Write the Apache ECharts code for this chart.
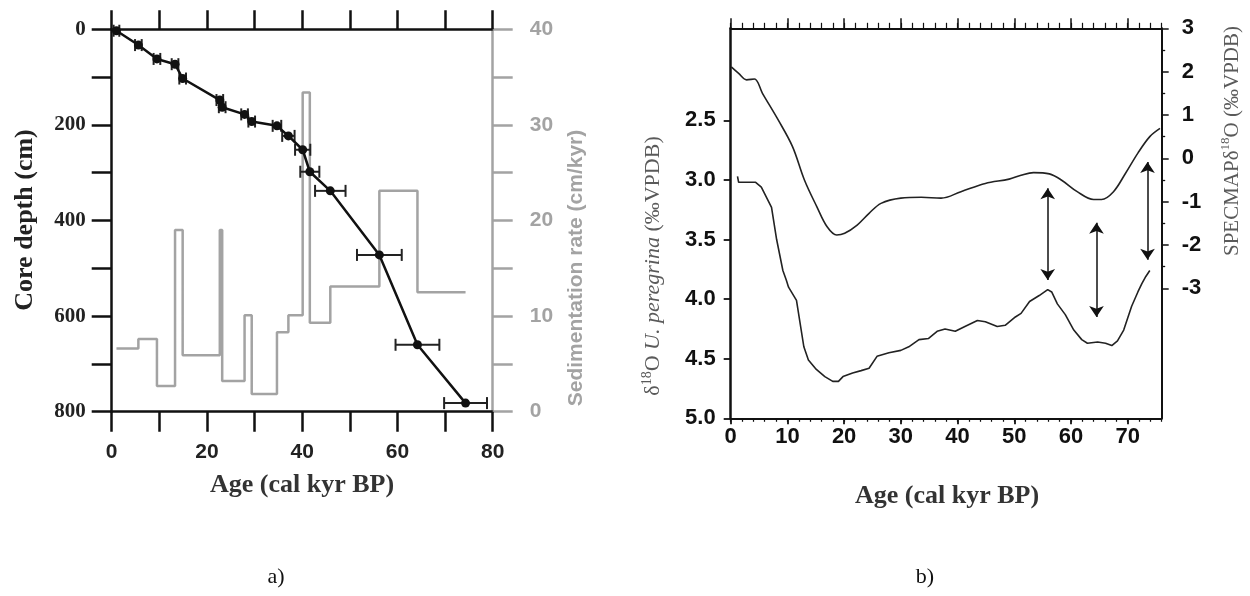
<!DOCTYPE html>
<html><head><meta charset="utf-8">
<script src="https://cdn.jsdelivr.net/npm/echarts@6/dist/echarts.min.js"></script>
<style>html,body{margin:0;padding:0;background:#fff}#c{width:1250px;height:596px}</style>
</head><body><div id="c"></div>
<script>
// ---------- Panel a) data ----------
const ages      = [1, 5.6, 9.5, 13.3, 14.9, 22.7, 23.2, 27.9, 29.4, 34.7, 37.1, 40.1, 41.6, 45.9, 56.2, 64.2, 74.3];
const depths    = [3, 33, 62, 73, 103, 148, 163, 178, 193, 202, 223, 252, 298, 338, 472, 660, 782];
const ageErrors = [0.6, 0.7, 0.7, 0.7, 0.7, 0.7, 0.7, 0.7, 0.7, 0.9, 1.3, 1.6, 2.0, 3.2, 4.7, 4.6, 4.5];
const sedAges   = [1, 5.6, 9.5, 13.3, 14.9, 22.7, 23.2, 27.9, 29.4, 34.7, 37.1, 40.1, 41.6, 45.9, 56.2, 64.2, 74.3];
const sedRates  = [6.6, 7.6, 2.7, 19.0, 5.9, 19.0, 3.2, 10.1, 1.85, 8.3, 10.1, 33.4, 9.3, 13.1, 23.1, 12.5, 12.5];

// ---------- Panel b) data ----------
const specAges = [0.1, 1.4, 2.8, 4.2, 5.6, 8.4, 10.9, 13.0, 15.2, 17.0, 18.7, 20.1, 22.3, 24.4, 26.5, 30.0, 33.6, 37.1, 40.6, 44.9, 49.1, 51.2, 53.4, 56.2, 58.3, 61.1, 64.0, 65.4, 67.5, 69.6, 71.8, 73.9, 75.7];
const specVals = [2.11, 1.96, 1.81, 1.83, 1.50, 0.88, 0.27, -0.50, -1.12, -1.58, -1.77, -1.73, -1.54, -1.27, -1.04, -0.92, -0.90, -0.92, -0.77, -0.58, -0.48, -0.39, -0.33, -0.36, -0.50, -0.77, -0.95, -0.95, -0.77, -0.35, 0.12, 0.50, 0.69];
const peregAges = [1.2, 1.4, 2.4, 4.4, 5.4, 7.2, 8.1, 9.2, 9.8, 10.2, 11.6, 12.9, 13.7, 15.1, 16.6, 18.0, 19.0, 19.8, 21.5, 23.0, 24.4, 25.8, 27.9, 30.0, 31.4, 33.2, 34.9, 36.4, 37.8, 39.6, 41.3, 43.5, 44.9, 47.0, 48.4, 50.2, 51.2, 52.7, 54.4, 55.9, 56.6, 57.6, 59.0, 60.5, 61.9, 62.9, 64.7, 66.1, 67.2, 68.2, 69.3, 70.7, 71.8, 72.5, 73.2, 73.9];
const peregVals = [2.97, 3.02, 3.02, 3.02, 3.06, 3.23, 3.50, 3.76, 3.84, 3.90, 4.01, 4.40, 4.51, 4.59, 4.65, 4.69, 4.69, 4.65, 4.62, 4.60, 4.58, 4.48, 4.45, 4.43, 4.40, 4.34, 4.33, 4.27, 4.25, 4.27, 4.23, 4.18, 4.19, 4.23, 4.22, 4.15, 4.12, 4.02, 3.97, 3.92, 3.94, 4.04, 4.13, 4.26, 4.34, 4.37, 4.36, 4.37, 4.39, 4.35, 4.26, 4.06, 3.94, 3.87, 3.81, 3.76];
const arrowAges   = [55.9, 64.5, 73.5];
const arrowTop    = [3.07, 3.36, 2.85];
const arrowBottom = [3.84, 4.15, 3.67];

// ---------- tick labels ----------
const bTicksX     = [0, 10, 20, 30, 40, 50, 60, 70];
const bTicksLeft  = [2.5, 3.0, 3.5, 4.0, 4.5, 5.0];
const bTicksRight = [-3, -2, -1, 0, 1, 2, 3];
const bMinorRight = [-2.5, -1.5, -0.5, 0.5, 1.5, 2.5];

const SANS = '"Liberation Sans", Arial, sans-serif';
const SERIF = '"Liberation Serif", "Times New Roman", serif';
const BLACK = '#111';
const GRAY = '#a3a3a3';
const TGRAY = '#5a5a5a';

const chart = echarts.init(document.getElementById('c'), null, {renderer: 'canvas'});

function axLine(color, w) { return {show: true, onZero: false, lineStyle: {color: color, width: w}}; }
const noLine = {show: false, onZero: false};
function tick(len, color, w, extra) { return Object.assign({show: true, length: len, inside: false, lineStyle: {color: color, width: w}}, extra || {}); }

const option = {
  animation: false,
  backgroundColor: '#fff',
  grid: [
    {left: 111.7, top: 29.3, width: 381, height: 382.4},
    {left: 730.7, top: 28.3, width: 431, height: 390}
  ],
  xAxis: [
    {gridIndex: 0, type: 'value', position: 'bottom', min: 0, max: 80, interval: 10,
     axisLine: axLine(BLACK, 2.5), axisTick: tick(20, BLACK, 2.5), splitLine: {show: false},
     axisLabel: {margin: 30, color: '#222', fontFamily: SANS, fontWeight: 'bold', fontSize: 21,
       formatter: v => (v % 20 === 0 ? String(v) : '')}},
    {gridIndex: 0, type: 'value', position: 'top', min: 0, max: 80, interval: 10,
     axisLine: axLine(BLACK, 2.5), axisTick: tick(19, BLACK, 2.5), splitLine: {show: false},
     axisLabel: {show: false}},
    {gridIndex: 1, type: 'value', position: 'bottom', min: 0, max: 76,
     axisLine: axLine(BLACK, 2), axisTick: tick(6, BLACK, 1.8, {customValues: bTicksX}), splitLine: {show: false},
     axisLabel: {customValues: bTicksX, margin: 8, color: '#111', fontFamily: SANS, fontWeight: 'bold', fontSize: 22}},
    {gridIndex: 1, type: 'value', position: 'bottom', min: 0, max: 76, interval: 2,
     axisLine: noLine, axisTick: tick(3.5, BLACK, 1.2), splitLine: {show: false}, axisLabel: {show: false}},
    {gridIndex: 1, type: 'value', position: 'top', min: 0, max: 76,
     axisLine: axLine(BLACK, 2), axisTick: tick(10, BLACK, 1.5, {customValues: bTicksX}), splitLine: {show: false},
     axisLabel: {show: false}},
    {gridIndex: 1, type: 'value', position: 'top', min: 0, max: 76, interval: 2,
     axisLine: noLine, axisTick: tick(5.5, BLACK, 1.2), splitLine: {show: false}, axisLabel: {show: false}}
  ],
  yAxis: [
    {gridIndex: 0, type: 'value', position: 'left', inverse: true, min: 0, max: 800, interval: 100,
     axisLine: axLine(BLACK, 2.5), axisTick: tick(20, BLACK, 2.5), splitLine: {show: false},
     axisLabel: {margin: 26, color: '#222', fontFamily: SERIF, fontWeight: 'bold', fontSize: 21,
       formatter: v => (v % 200 === 0 ? String(v) : '')}},
    {gridIndex: 0, type: 'value', position: 'right', min: 0, max: 40, interval: 5,
     axisLine: axLine(GRAY, 2.5), axisTick: tick(20, GRAY, 2.5), splitLine: {show: false},
     axisLabel: {margin: 37, color: GRAY, fontFamily: SANS, fontWeight: 'bold', fontSize: 21,
       formatter: v => (v % 10 === 0 ? String(v) : '')}},
    {gridIndex: 1, type: 'value', position: 'left', inverse: true, min: 1.728, max: 5.0,
     axisLine: axLine(BLACK, 2.5), axisTick: tick(7, BLACK, 1.8, {customValues: bTicksLeft}), splitLine: {show: false},
     axisLabel: {customValues: bTicksLeft, margin: 15, color: '#111', fontFamily: SANS, fontWeight: 'bold', fontSize: 22,
       formatter: v => Number(v).toFixed(1)}},
    {gridIndex: 1, type: 'value', position: 'right', min: -6, max: 3,
     axisLine: axLine(BLACK, 2), axisTick: tick(7, BLACK, 1.5, {customValues: bTicksRight}), splitLine: {show: false},
     axisLabel: {customValues: bTicksRight, margin: 20, color: '#111', fontFamily: SANS, fontWeight: 'bold', fontSize: 22}},
    {gridIndex: 1, type: 'value', position: 'right', min: -6, max: 3,
     axisLine: noLine, axisTick: tick(3.5, BLACK, 1.3, {customValues: bMinorRight}), splitLine: {show: false},
     axisLabel: {show: false}}
  ],
  series: [
    {type: 'line', name: 'sed', xAxisIndex: 0, yAxisIndex: 1, step: 'end', symbol: 'none', z: 1,
     lineStyle: {color: GRAY, width: 2.5}, data: sedAges.map((a, i) => [a, sedRates[i]])},
    {type: 'custom', name: 'err', xAxisIndex: 0, yAxisIndex: 0, z: 3,
     encode: {x: 0, y: 1},
     data: ages.map((a, i) => [a, depths[i], ageErrors[i]]),
     renderItem: function (params, api) {
       const a = api.value(0), d = api.value(1), e = api.value(2);
       const p1 = api.coord([a - e, d]), p2 = api.coord([a + e, d]);
       const h = 6;
       const st = {stroke: '#222', lineWidth: 2};
       return {type: 'group', children: [
         {type: 'line', shape: {x1: p1[0], y1: p1[1], x2: p2[0], y2: p2[1]}, style: st},
         {type: 'line', shape: {x1: p1[0], y1: p1[1] - h, x2: p1[0], y2: p1[1] + h}, style: st},
         {type: 'line', shape: {x1: p2[0], y1: p2[1] - h, x2: p2[0], y2: p2[1] + h}, style: st}
       ]};
     }},
    {type: 'line', name: 'depth', xAxisIndex: 0, yAxisIndex: 0, symbol: 'circle', symbolSize: 9, z: 4,
     itemStyle: {color: BLACK}, lineStyle: {color: BLACK, width: 2.5},
     data: ages.map((a, i) => [a, depths[i]])},
    {type: 'line', name: 'pereg', xAxisIndex: 2, yAxisIndex: 2, symbol: 'none', z: 3,
     lineStyle: {color: '#222', width: 1.6},
     data: peregAges.map((a, i) => [a, peregVals[i]]),
     markLine: {silent: true, symbol: ['arrow', 'arrow'], symbolSize: 11, label: {show: false},
       lineStyle: {color: '#111', width: 1.5, type: 'solid'}, emphasis: {disabled: true},
       data: arrowAges.map((a, i) => [{coord: [a, arrowTop[i]]}, {coord: [a, arrowBottom[i]]}])}},
    {type: 'line', name: 'spec', xAxisIndex: 2, yAxisIndex: 3, symbol: 'none', smooth: 0.35, z: 3,
     lineStyle: {color: '#222', width: 1.6},
     data: specAges.map((a, i) => [a, specVals[i]])}
  ],
  graphic: [
    {type: 'text', x: 25, y: 220, rotation: Math.PI / 2,
     style: {text: 'Core depth (cm)', font: 'bold 26px ' + SERIF, fill: '#222', align: 'center', verticalAlign: 'middle', textAlign: 'center', textVerticalAlign: 'middle'}},
    {type: 'text', x: 576, y: 268, rotation: Math.PI / 2,
     style: {text: 'Sedimentation rate (cm/kyr)', font: 'bold 21px ' + SANS, fill: GRAY, align: 'center', verticalAlign: 'middle', textAlign: 'center', textVerticalAlign: 'middle'}},
    {type: 'text', x: 302, y: 485,
     style: {text: 'Age (cal kyr BP)', font: 'bold 26px ' + SERIF, fill: '#333', align: 'center', verticalAlign: 'middle', textAlign: 'center', textVerticalAlign: 'middle'}},
    {type: 'text', x: 947, y: 496,
     style: {text: 'Age (cal kyr BP)', font: 'bold 26px ' + SERIF, fill: '#333', align: 'center', verticalAlign: 'middle', textAlign: 'center', textVerticalAlign: 'middle'}},
    {type: 'text', x: 276, y: 577,
     style: {text: 'a)', font: '22px ' + SERIF, fill: '#111', align: 'center', verticalAlign: 'middle', textAlign: 'center', textVerticalAlign: 'middle'}},
    {type: 'text', x: 925, y: 577,
     style: {text: 'b)', font: '22px ' + SERIF, fill: '#111', align: 'center', verticalAlign: 'middle', textAlign: 'center', textVerticalAlign: 'middle'}},
    {type: 'text', x: 653, y: 266, rotation: Math.PI / 2,
     style: {text: '{n|δ}{s|18}{n|O }{i|U. peregrina}{n| (‰VPDB)}', align: 'center', verticalAlign: 'middle', textAlign: 'center', textVerticalAlign: 'middle',
       rich: {
         n: {fontFamily: SERIF, fontSize: 22, fill: TGRAY, color: TGRAY, lineHeight: 26},
         i: {fontFamily: SERIF, fontSize: 22, fontStyle: 'italic', fill: TGRAY, color: TGRAY, lineHeight: 26},
         s: {fontFamily: SERIF, fontSize: 14, fill: TGRAY, color: TGRAY, verticalAlign: 'top', lineHeight: 14}
       }}},
    {type: 'text', x: 1232, y: 141, rotation: Math.PI / 2,
     style: {text: '{n|SPECMAPδ}{s|18}{n|O (‰VPDB)}', align: 'center', verticalAlign: 'middle', textAlign: 'center', textVerticalAlign: 'middle',
       rich: {
         n: {fontFamily: SERIF, fontSize: 21, fill: TGRAY, color: TGRAY, lineHeight: 25},
         s: {fontFamily: SERIF, fontSize: 13, fill: TGRAY, color: TGRAY, verticalAlign: 'top', lineHeight: 13}
       }}}
  ]
};
chart.setOption(option);
</script></body></html>
